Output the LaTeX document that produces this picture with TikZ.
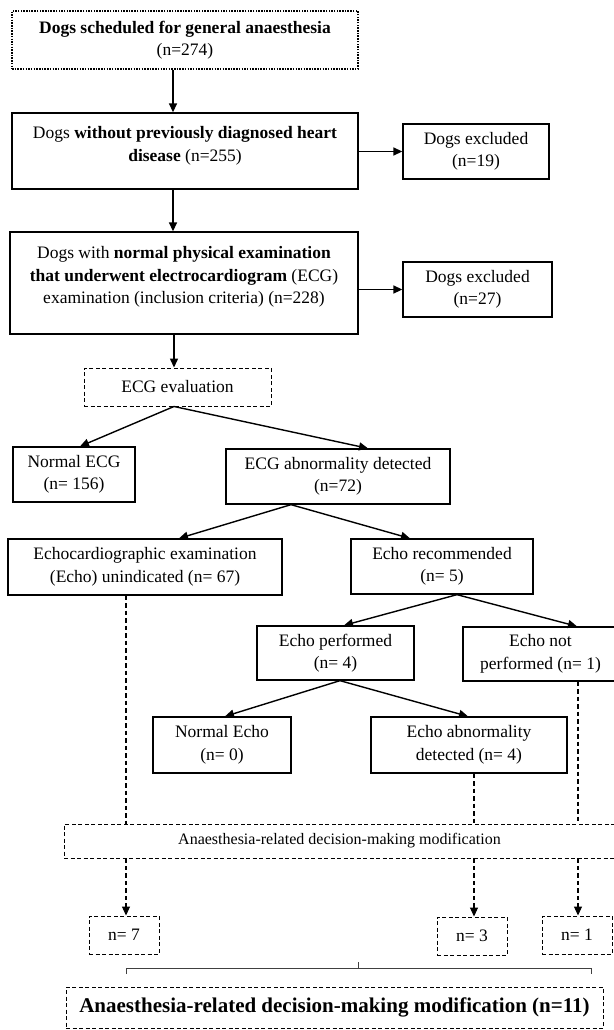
\documentclass[tikz,border=0pt]{standalone}
\usepackage{fontspec}
\setmainfont{Liberation Serif}
\usetikzlibrary{arrows.meta}
\begin{document}
\begin{tikzpicture}[x=1pt,y=-1pt,
  box/.style={draw, line width=1.3pt, rectangle, align=center, inner sep=0pt,
     font=\fontsize{17.5}{22.5}\selectfont},
  dbox/.style={box, line width=0.95pt, dash pattern=on 4pt off 2.5pt},
  dotbox/.style={box, line width=2pt, dash pattern=on 1.5pt off 1.2pt},
  txt/.style={align=center, inner sep=0pt, font=\fontsize{17.5}{22.5}\selectfont},
  arr/.style={line width=1.4pt, -{Triangle[length=9pt,width=8pt]}},
  darr/.style={line width=1.05pt, dash pattern=on 4.5pt off 3pt, -{Triangle[length=9pt,width=8pt]}},
  dline/.style={line width=1.05pt, dash pattern=on 4.5pt off 3pt},
]
\useasboundingbox (0,0) rectangle (613,1030);
\fill[white] (0,0) rectangle (613,1030);

\coordinate (xa) at (173,0);
\coordinate (xb) at (174,0);
\coordinate (xL) at (126,0);
\coordinate (xM) at (474,0);
\coordinate (xR) at (578,0);

% boxes
\node[dotbox, minimum width=346pt, minimum height=58pt] (b1) at (185,40)
  {\textbf{Dogs scheduled for general anaesthesia}\\(n=274)};
\node[box, minimum width=346pt, minimum height=76pt] (b2) at (185,151) {};
\node[txt] (b2t) at (185,146) {Dogs \textbf{without previously diagnosed heart}\\\textbf{disease} (n=255)};
\node[box, minimum width=146pt, minimum height=55pt] (ex1) at (476,151.5) {Dogs excluded\\(n=19)};
\node[box, minimum width=348pt, minimum height=102pt] (b3) at (184,283) {};
\node[txt] (b3t) at (184,277) {Dogs with \textbf{normal physical examination}\\\textbf{that underwent electrocardiogram} (ECG)\\examination (inclusion criteria) (n=228)};
\node[box, minimum width=149pt, minimum height=55pt] (ex2) at (477.5,289.5) {Dogs excluded\\(n=27)};
\node[dbox, minimum width=187pt, minimum height=38pt] (ecg) at (177.5,387) {ECG evaluation};
\node[box, minimum width=122pt, minimum height=55pt] (nECG) at (74,474.5) {Normal ECG\\(n= 156)};
\node[box, minimum width=224pt, minimum height=55pt] (aECG) at (338,476.5) {ECG abnormality detected\\(n=72)};
\node[box, minimum width=274pt, minimum height=56pt] (unind) at (145,567) {Echocardiographic examination\\(Echo) unindicated (n= 67)};
\node[box, minimum width=182pt, minimum height=55pt] (rec) at (442,566.5) {Echo recommended\\(n= 5)};
\node[box, minimum width=157pt, minimum height=54pt] (perf) at (335.5,653) {Echo performed\\(n= 4)};
\node[box, minimum width=155pt, minimum height=54pt] (notp) at (540.5,654) {Echo not\\performed (n= 1)};
\node[box, minimum width=138pt, minimum height=56pt] (nEcho) at (222,745) {Normal Echo\\(n= 0)};
\node[box, minimum width=196pt, minimum height=56pt] (aEcho) at (469,745) {Echo abnormality\\detected (n= 4)};
\node[dbox, minimum width=551pt, minimum height=34pt, font=\fontsize{16}{20}\selectfont] (anaes) at (339.5,841)
  {Anaesthesia-related decision-making modification};
\node[dbox, minimum width=70pt, minimum height=38pt] (n7) at (124,935) {n= 7};
\node[dbox, minimum width=70pt, minimum height=38pt] (n3) at (472,936) {n= 3};
\node[dbox, minimum width=70pt, minimum height=38pt] (n1) at (577,935) {n= 1};
\node[dbox, minimum width=537pt, minimum height=41pt, font=\fontsize{21}{25}\selectfont\bfseries] (fin) at (334.5,1007.5)
  {Anaesthesia-related decision-making modification (n=11)};

% connectors
\draw[arr] (b1.south -| xa) -- (b2.north -| xa);
\draw[arr] (b2.south -| xa) -- (b3.north -| xa);
\draw[arr] (b2.east |- ex1.west) -- (ex1.west);
\draw[arr] (b3.east |- ex2.west) -- (ex2.west);
\draw[arr] (b3.south -| xb) -- (ecg.north -| xb);
\draw[arr] (ecg.south -| xb) -- ([xshift=6pt]nECG.north);
\draw[arr] (ecg.south -| xb) -- ([xshift=30pt]aECG.north);
\draw[arr] ([xshift=-47pt]aECG.south) -- ([xshift=34pt]unind.north);
\draw[arr] ([xshift=-47pt]aECG.south) -- ([xshift=-32pt]rec.north);
\draw[arr] ([xshift=15pt]rec.south) -- ([xshift=8.5pt]perf.north);
\draw[arr] ([xshift=15pt]rec.south) -- ([xshift=36.5pt]notp.north);
\draw[arr] ([xshift=4.5pt]perf.south) -- ([xshift=3pt]nEcho.north);
\draw[arr] ([xshift=4.5pt]perf.south) -- ([xshift=-1pt]aEcho.north);

\draw[dline] (unind.south -| xL) -- (anaes.north -| xL);
\draw[dline] (aEcho.south -| xM) -- (anaes.north -| xM);
\draw[dline] (notp.south -| xR) -- (anaes.north -| xR);
\draw[darr] (anaes.south -| xL) -- (n7.north -| xL);
\draw[darr] (anaes.south -| xM) -- (n3.north -| xM);
\draw[darr] (anaes.south -| xR) -- (n1.north -| xR);

% bracket
\coordinate (brL) at (126,968);
\coordinate (brR) at (591,968);
\coordinate (brM) at (358,968);
\draw[line width=0.9pt, black!75] ([yshift=-6pt]brL) -- (brL) -- (brR) -- ([yshift=-6pt]brR);
\draw[line width=0.9pt, black!75] (brM) -- ([yshift=6pt]brM);
\end{tikzpicture}
\end{document}
